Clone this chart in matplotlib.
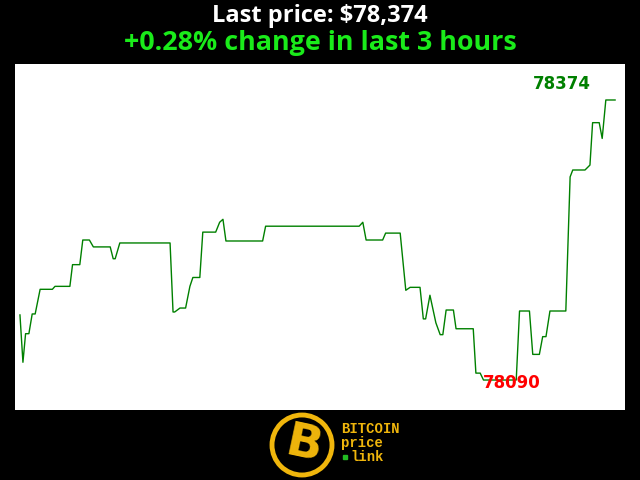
import matplotlib
matplotlib.use("Agg")
import matplotlib.pyplot as plt
from matplotlib.patches import Circle

# ------------------------------------------------------------
# Data (minutes over the last 3 hours, price in USD)
# ------------------------------------------------------------
minutes = [0, 0.9, 1.7, 2.7, 3.7, 4.6, 6.1, 9.8, 10.6, 15.1, 15.9, 18.1, 19.0, 21.0,
           22.2, 27.3, 28.2, 28.8, 30.2, 45.4, 46.3, 46.8, 48.4, 50.1, 51.4, 52.3,
           54.4, 55.3, 59.2, 60.4, 61.4, 62.3, 73.4, 74.3, 102.6, 103.7, 104.7,
           109.7, 110.6, 115.0, 116.7, 118.0, 121.0, 122.0, 122.7, 124.0, 125.8,
           127.1, 127.9, 128.9, 131.1, 131.9, 137.1, 137.9, 139.2, 140.2, 150.1,
           151.1, 154.1, 155.1, 157.1, 158.1, 159.1, 160.3, 165.1, 166.4, 167.2,
           170.9, 172.4, 173.2, 175.2, 176.1, 177.2, 180.0]
prices = [78156, 78108, 78137, 78137, 78157, 78157, 78182, 78182, 78185, 78185,
          78207, 78207, 78232, 78232, 78225, 78225, 78213, 78213, 78229, 78229,
          78159, 78159, 78163, 78163, 78185, 78194, 78194, 78240, 78240, 78250,
          78253, 78231, 78231, 78246, 78246, 78250, 78232, 78232, 78239, 78239,
          78181, 78184, 78184, 78152, 78152, 78176, 78148, 78136, 78136, 78161,
          78161, 78142, 78142, 78097, 78097, 78090, 78090, 78160, 78160, 78116,
          78116, 78134, 78134, 78160, 78160, 78296, 78303, 78303, 78308, 78351,
          78351, 78335, 78374, 78374]

last_price = 78374
change_pct = 0.28
high_price = max(prices)
low_price = min(prices)

# ------------------------------------------------------------
# Figure
# ------------------------------------------------------------
W, H = 640, 480
fig = plt.figure(figsize=(6.4, 4.8), dpi=100, facecolor="black")

fig.text(0.5, 1 - 16 / H, f"Last price: ${last_price:,}", color="white",
         fontsize=17, fontweight="bold", family="Open Sans", ha="center", va="center")
fig.text(0.5, 1 - 43 / H, f"+{change_pct:.2f}% change in last 3 hours", color="#1aeb1a",
         fontsize=19.4, fontweight="bold", family="Open Sans", ha="center", va="center")

ax = fig.add_axes([15 / W, 70 / H, 610 / W, 346 / H])
ax.set_facecolor("white")
ax.plot(minutes, prices, color="green", lw=1)
ax.set_xlim(-1.5, 183.0)
ax.set_ylim(78059.6, 78410.5)
for s in ax.spines.values():
    s.set_visible(False)
ax.set_xticks([])
ax.set_yticks([])

ax.text(164, 78390, str(high_price), color="green", fontsize=12, fontweight="bold",
        ha="center", va="center")
ax.text(148.8, 78087, str(low_price), color="red", fontsize=12, fontweight="bold",
        ha="center", va="center")

# ------------------------------------------------------------
# Logo
# ------------------------------------------------------------
gold = "#f0b60c"
lax = fig.add_axes([268 / W, 0 / H, 140 / W, 70 / H])
lax.set_xlim(0, 140)
lax.set_ylim(0, 70)
lax.set_aspect("equal")
lax.axis("off")
lax.add_patch(Circle((34, 35), 30, facecolor="none", edgecolor=gold, lw=3.5))
lax.text(36, 34, "B", color=gold, fontsize=34, fontweight="bold", rotation=-12,
         ha="center", va="center", family="DejaVu Sans")
logo_words = ["BITCOIN", "price", "link"]
logo_x = [73, 73, 82]
for i, word in enumerate(logo_words):
    lax.text(logo_x[i], 51 - i * 14, word, color=gold, fontsize=10, fontweight="bold",
             family="Liberation Mono", ha="left", va="center")
lax.plot([77], [23], marker="s", ms=2.5, color="#22bb22")

fig.savefig("out.png", dpi=100, facecolor="black")
